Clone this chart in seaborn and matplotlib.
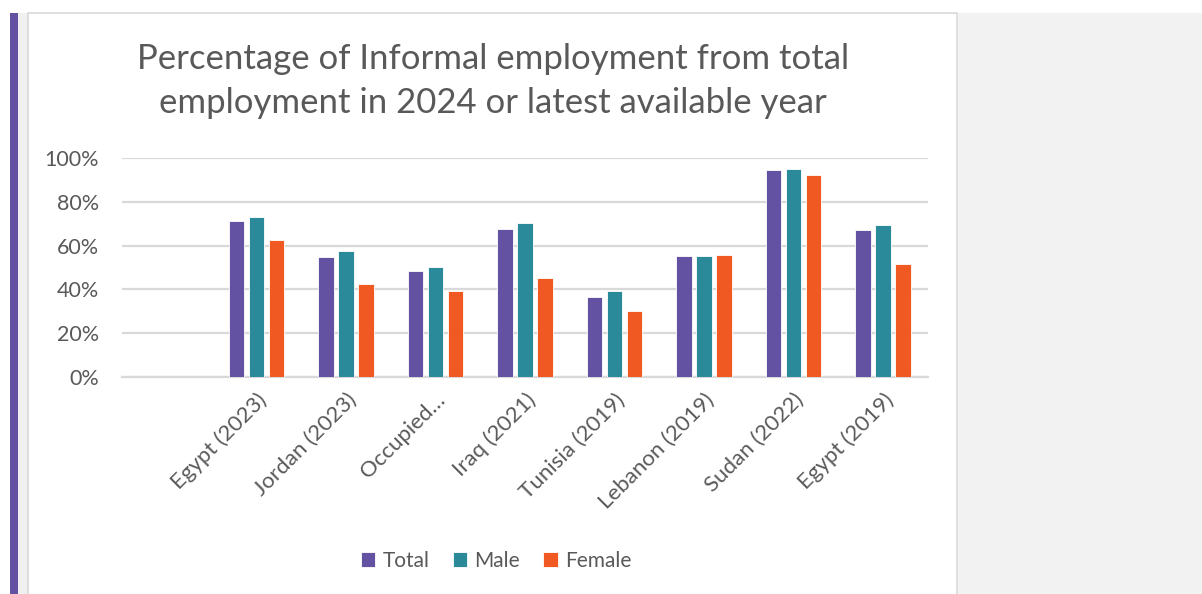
import matplotlib
matplotlib.use("Agg")
import matplotlib.pyplot as plt
from matplotlib.patches import Rectangle
import seaborn as sns
import pandas as pd
import numpy as np

categories = ["", "Egypt (2023)", "Jordan (2023)", "Occupied…", "Iraq (2021)",
              "Tunisia (2019)", "Lebanon (2019)", "Sudan (2022)", "Egypt (2019)"]
total = [np.nan, 71.2, 54.9, 48.3, 67.4, 36.7, 55.2, 94.2, 66.9]
male = [np.nan, 73.1, 57.5, 50.4, 70.3, 39.2, 55.2, 94.7, 69.5]
female = [np.nan, 62.5, 42.5, 39.3, 45.2, 30.2, 55.5, 92.3, 51.7]
series = ["Total", "Male", "Female"]
colors = ["#6351A1", "#2A8A9A", "#F05A22"]
title = "Percentage of Informal employment from total\nemployment in 2024 or latest available year"

rows = []
for name, vals in zip(series, [total, male, female]):
    for c, v in zip(categories, vals):
        rows.append({"Country": c, "Series": name, "Value": v / 100.0})
df = pd.DataFrame(rows)

sns.set_theme(style="white")
plt.rcParams["font.family"] = ["Lato", "DejaVu Sans"]
TXT = "#595959"

W, H = 1202, 594
fig = plt.figure(figsize=(W / 100, H / 100), dpi=100)
fig.patch.set_facecolor("white")

def rect(x0, y0, x1, y1, z, **kw):
    # pixel coords from top-left
    fig.patches.append(Rectangle((x0 / W, 1 - y1 / H), (x1 - x0) / W, (y1 - y0) / H,
                                 transform=fig.transFigure, figure=fig, zorder=z, **kw))

rect(958, 13, 1202, 594, -5, facecolor="#F2F2F2", edgecolor="none")
rect(18, 13, 28, 594, -5, facecolor="#F0F0F0", edgecolor="none")
rect(10, 13, 18, 594, -4, facecolor="#6351A1", edgecolor="none")
rect(28, 13, 957, 600, -5, facecolor="white", edgecolor="#D9D9D9", linewidth=1.2)

ax = fig.add_axes([122 / W, 1 - 377.3 / H, 806 / W, 219.6 / H])
ax.set_facecolor("none")
sns.barplot(data=df, x="Country", y="Value", hue="Series", order=categories,
            hue_order=series, palette=colors, width=0.67, gap=0.22,
            edgecolor="white", linewidth=0.6, saturation=1, ax=ax, legend=True, zorder=3)

ax.set_ylim(0, 1.0)
ax.set_xlim(-0.5, len(categories) - 0.5)
ax.set_yticks(np.arange(0, 1.01, 0.2))
ax.set_yticklabels([f"{int(round(t * 100))}%" for t in np.arange(0, 1.01, 0.2)],
                   fontsize=15.5, color=TXT)
ax.yaxis.grid(True, color="#D9D9D9", linewidth=1.6, zorder=0)
ax.set_axisbelow(True)
for s in ["top", "right", "left"]:
    ax.spines[s].set_visible(False)
ax.spines["bottom"].set_color("#D9D9D9")
ax.spines["bottom"].set_linewidth(1.6)
ax.tick_params(axis="y", length=0, pad=16.5)
ax.tick_params(axis="x", length=0, pad=9)
ax.set_xlabel("")
ax.set_ylabel("")
ax.set_xticks(range(len(categories)))
ax.set_xticklabels(categories, rotation=45, ha="right", va="top",
                   rotation_mode="anchor", fontsize=16, color=TXT)

handles, labels = ax.get_legend_handles_labels()
ax.get_legend().remove()
fig.legend(handles, labels, loc="center", bbox_to_anchor=(496 / W, 1 - 561 / H),
           ncol=3, frameon=False, fontsize=15, labelcolor=TXT,
           handlelength=0.7, handleheight=0.7, handletextpad=0.35, columnspacing=1.1)

fig.text(493 / W, 1 - 81 / H, title, ha="center", va="center", fontsize=25,
         color=TXT, linespacing=1.45)

fig.savefig("out.png", dpi=100, facecolor=fig.get_facecolor())
